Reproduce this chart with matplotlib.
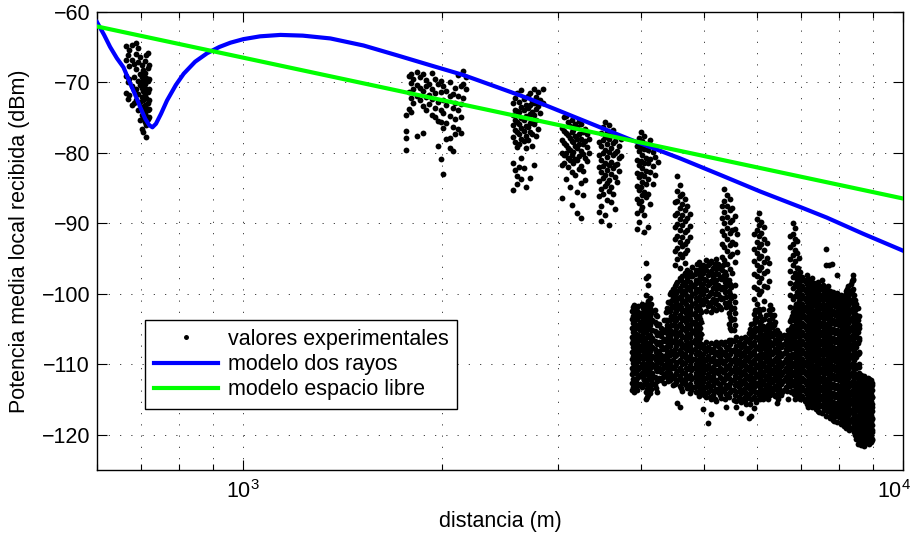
import matplotlib
matplotlib.use("Agg")
import matplotlib.pyplot as plt
import matplotlib.transforms as mtransforms
from matplotlib.ticker import LogLocator, NullFormatter

plt.rcParams['font.family'] = ['Liberation Sans', 'DejaVu Sans']
plt.rcParams['font.size'] = 15.5

# modelo de dos rayos
d_dos_rayos = [600, 615, 628, 643, 658, 674, 687, 698, 710, 720, 728, 737, 750, 766, 790, 812,
               845, 881, 920, 956, 1000, 1060, 1138, 1230, 1355, 1521, 1711, 1920, 2157, 2424,
               2722, 3056, 3431, 3852, 4590, 5300, 6072, 6982, 7660, 8700, 10000]
p_dos_rayos = [-61.5, -63.3, -65.0, -66.6, -67.9, -70.2, -72.0, -73.6, -75.2, -76.1, -76.4, -75.9,
               -74.5, -72.6, -70.4, -68.8, -67.1, -65.9, -65.0, -64.4, -63.9, -63.5, -63.3, -63.4,
               -63.8, -64.8, -66.2, -67.6, -69.0, -70.7, -72.4, -74.3, -76.2, -78.1, -80.8, -83.2,
               -85.5, -87.7, -89.2, -91.5, -93.9]

# modelo de espacio libre
d_libre = [600, 10000]
p_libre = [-62.1, -86.5]

# valores experimentales, por columnas: (distancia, [potencias])
medidas_700 = [
    (664, [-64.9, -66.8, -69.1, -71.5]),
    (668, [-66.2, -70.0, -72.4]),
    (672, [-65.5, -67.7, -69.6, -71.8]),
    (677, [-64.7, -66.9, -70.6, -73.2]),
    (682, [-67.4, -69.3, -71.1, -73.0]),
    (687, [-64.4, -66.0, -68.2, -70.9, -72.6]),
    (692, [-65.1, -67.2, -69.8, -71.7, -74.0]),
    (697, [-66.4, -68.9, -70.4, -72.8, -75.3]),
    (701, [-67.6, -69.2, -70.8, -72.1, -73.5, -74.7, -76.6]),
    (705, [-68.3, -69.9, -71.3, -72.6, -73.9, -75.1, -77.0]),
    (709, [-67.0, -68.7, -70.3, -71.7, -73.2, -74.3, -75.6]),
    (713, [-66.1, -69.4, -70.9, -72.3, -73.6, -74.8, -76.1, -77.8]),
    (717, [-65.9, -68.0, -69.9, -71.4, -72.9, -74.0, -75.2]),
    (720, [-67.5, -69.5, -71.0, -72.5, -73.8, -75.0]),
]
medidas_1900 = [
    (1765, [-74.6, -76.9, -77.9, -79.6]),
    (1780, [-69.1, -71.4, -73.8]),
    (1795, [-68.8, -70.1, -72.3, -74.3]),
    (1810, [-69.6, -71.0, -73.0]),
    (1830, [-68.6, -70.4, -71.9, -77.6]),
    (1850, [-69.3, -70.8, -72.6]),
    (1870, [-68.9, -71.3, -73.4, -77.2]),
    (1890, [-69.7, -70.6, -72.1, -74.0]),
    (1910, [-70.2, -71.8, -73.1]),
    (1930, [-68.7, -70.9, -72.4, -74.6]),
    (1950, [-69.5, -71.6, -73.7, -75.0]),
    (1970, [-70.3, -72.8, -75.5, -79.0]),
    (1990, [-69.9, -71.4, -73.9, -75.6, -80.9]),
    (2010, [-70.6, -72.5, -74.4, -76.5, -83.0]),
    (2030, [-71.2, -73.3, -75.8, -78.1]),
    (2055, [-70.0, -72.0, -74.8, -77.9, -79.3]),
    (2075, [-71.7, -73.6, -76.3, -79.8]),
    (2095, [-70.8, -72.9, -75.2, -77.4]),
    (2115, [-69.0, -71.9, -74.0, -76.6]),
    (2135, [-70.5, -73.1, -75.0, -77.2]),
    (2155, [-68.4, -70.2, -72.3]),
    (2175, [-69.2, -71.0]),
]
medidas_2700 = [
    (2560, [-73.0, -74.6, -76.1, -77.8, -81.4, -85.3]),
    (2580, [-72.2, -73.9, -75.4, -76.8, -78.5, -82.5]),
    (2600, [-71.5, -74.1, -75.7, -77.0, -79.2, -83.3, -84.4]),
    (2620, [-72.8, -74.3, -75.9, -77.4, -78.7, -82.0]),
    (2640, [-71.1, -73.5, -75.1, -76.5, -78.0, -80.8, -83.8]),
    (2660, [-72.4, -74.0, -75.3, -76.9, -78.3, -82.2]),
    (2680, [-73.3, -74.8, -76.2, -77.6, -79.4, -84.8]),
    (2700, [-72.0, -73.7, -75.0, -76.4, -78.2]),
    (2720, [-71.6, -73.2, -74.5, -75.8, -77.1, -83.6]),
    (2740, [-72.7, -74.2, -75.6, -77.3, -79.0]),
    (2760, [-70.9, -72.9, -74.7, -76.0, -81.7]),
    (2780, [-72.1, -73.8, -75.4, -77.7]),
    (2800, [-71.4, -73.4, -76.6]),
    (2820, [-72.5, -74.4]),
    (2845, [-71.0, -73.0]),
]
medidas_3200 = [
    (3045, [-76.5, -78.2, -80.0, -81.8, -86.4]),
    (3065, [-75.0, -76.9, -78.6, -80.4, -81.5]),
    (3085, [-74.8, -77.2, -78.9, -80.1, -83.7]),
    (3105, [-75.6, -77.5, -79.3, -80.7, -82.0]),
    (3125, [-76.2, -77.9, -79.6, -81.1, -84.9]),
    (3145, [-75.3, -77.0, -78.4, -80.3, -82.8, -87.4]),
    (3165, [-76.8, -78.5, -79.9, -81.4]),
    (3185, [-75.9, -77.7, -79.1, -80.9, -83.2]),
    (3205, [-76.4, -78.1, -79.4, -81.0, -85.6, -88.6]),
    (3225, [-75.5, -77.3, -78.8, -80.5, -82.3]),
    (3245, [-76.0, -78.0, -79.7, -81.9, -84.3, -89.3]),
    (3270, [-77.1, -78.7, -80.2, -82.6, -86.0]),
    (3295, [-76.6, -78.3, -80.8, -83.9]),
    (3320, [-77.4, -79.2, -81.2]),
    (3345, [-78.0, -80.0]),
]
medidas_3600 = [
    (3455, [-78.5, -80.3, -82.1, -84.0, -86.2, -88.4]),
    (3480, [-77.2, -79.1, -81.0, -82.8, -85.1, -87.6, -89.7]),
    (3505, [-76.4, -78.2, -80.0, -81.9, -83.6, -85.8]),
    (3530, [-75.7, -77.8, -79.6, -81.5, -83.2, -84.7, -88.9]),
    (3555, [-77.0, -78.8, -80.6, -82.4, -84.3, -86.7]),
    (3580, [-76.1, -78.0, -79.9, -81.7, -83.9, -85.4, -90.3]),
    (3605, [-77.5, -79.4, -81.3, -83.0, -84.8, -87.0]),
    (3630, [-76.8, -78.6, -80.4, -82.2, -85.9]),
    (3655, [-78.3, -80.1, -81.8, -83.5, -88.0]),
    (3680, [-77.6, -79.7, -81.6, -84.1]),
    (3710, [-79.0, -80.8, -82.6]),
    (3740, [-78.1, -80.5]),
]
medidas_4000 = [
    (3950, [-79.0, -81.0, -82.9, -84.7, -86.5, -88.6, -90.8]),
    (3975, [-77.9, -79.8, -81.7, -83.5, -85.3, -87.2, -89.9]),
    (4000, [-77.1, -79.2, -81.2, -83.0, -84.9, -86.8, -88.2]),
    (4025, [-78.4, -80.3, -82.2, -84.1, -86.0, -87.7]),
    (4050, [-77.6, -79.5, -81.4, -83.3, -85.6, -88.9, -91.2]),
    (4080, [-78.8, -80.7, -82.6, -84.5, -86.3]),
    (4110, [-79.6, -81.5, -83.8, -85.9, -90.5]),
    (4140, [-78.2, -80.9, -82.8, -87.3]),
    (4175, [-79.9, -81.9, -84.4]),
    (4210, [-80.6, -83.1]),
    (4250, [-81.3]),
]
# picos estrechos entre 4500 y 7000 m
picos = [
    (4510, [-87.0, -88.9, -90.6, -92.3, -94.0, -95.9]),
    (4550, [-83.3, -85.4, -86.9, -88.5, -90.1, -91.8, -93.5, -95.1]),
    (4590, [-84.6, -86.2, -87.8, -89.4, -91.0, -92.6, -94.4, -96.4]),
    (4630, [-85.8, -87.3, -88.8, -90.3, -91.9, -93.2, -94.8]),
    (4670, [-86.5, -88.1, -89.7, -91.3, -92.9, -94.2, -95.6]),
    (4710, [-87.6, -89.2, -90.9, -92.5, -93.8]),
    (4750, [-88.7, -90.4, -92.0]),
    (5310, [-87.5, -89.3, -91.1, -93.0, -94.8, -96.6]),
    (5360, [-85.2, -86.9, -88.4, -90.0, -91.7, -93.4, -95.2, -97.3, -99.4]),
    (5410, [-86.0, -87.6, -89.1, -90.7, -92.3, -94.0, -95.8, -98.1]),
    (5460, [-86.6, -88.2, -89.8, -91.4, -93.1, -94.6, -96.5, -100.2]),
    (5510, [-87.9, -89.5, -91.0, -92.7, -94.3, -97.0]),
    (5560, [-89.0, -90.8, -92.9, -95.5, -98.8]),
    (5600, [-91.6, -94.1]),
    (5950, [-91.5, -93.6, -95.4, -97.2, -99.1, -100.8]),
    (6000, [-89.4, -91.0, -92.6, -94.2, -95.9, -97.5, -99.3, -101.5]),
    (6050, [-88.6, -90.3, -91.8, -93.4, -95.0, -96.7, -98.4, -100.1, -102.2]),
    (6100, [-89.9, -91.4, -93.0, -94.6, -96.2, -97.8, -99.6]),
    (6150, [-90.6, -92.2, -93.8, -95.5, -97.1, -98.9, -101.0]),
    (6210, [-92.8, -94.9, -96.8, -99.0]),
    (6270, [-95.7, -98.2]),
    (6750, [-91.8, -93.4, -95.1, -96.8, -98.5, -100.2, -101.9]),
    (6800, [-90.0, -91.5, -93.0, -94.5, -96.0, -97.6, -99.2, -100.8, -102.6]),
    (6850, [-90.7, -92.2, -93.8, -95.4, -97.0, -98.6, -100.3]),
    (6900, [-92.5, -94.2, -96.3, -98.0, -99.8]),
    (6960, [-95.0, -97.7, -100.5]),
    (7650, [-93.7, -95.9]),
    (7720, [-95.9]),
    (7800, [-95.8]),
    (7950, [-97.3]),
    (8230, [-99.3]),
    (8400, [-98.1, -97.4]),
]
# banda inferior (3900 - 9000 m)
banda = [
    (3880, [-102.4, -103.6, -104.8, -106.1, -107.0, -108.3, -109.2, -110.5, -111.4, -112.7, -113.6]),
    (3910, [-101.6, -102.8, -104.2, -105.2, -106.5, -107.7, -108.6, -109.9, -110.8, -112.1, -113.1, -114.0]),
    (3940, [-102.1, -103.2, -104.5, -105.7, -106.7, -108.0, -109.1, -110.1, -111.3, -112.5, -113.4]),
    (3965, [-101.8, -103.0, -104.6, -105.8, -107.3, -108.4, -109.6, -110.7, -111.8, -113.0]),
    (3990, [-102.7, -104.0, -105.1, -106.5, -107.8, -109.0, -110.4, -111.5, -112.8]),
    (4020, [-101.4, -103.3, -104.7, -106.1, -107.4, -108.8, -110.0, -111.2, -113.3]),
    (4050, [-102.5, -103.8, -105.0, -106.3, -107.5, -108.6, -109.9, -111.0, -112.3]),
    (4080, [-95.6, -97.8, -100.2, -101.9, -103.1, -104.4, -105.5, -106.8, -107.9, -109.0, -110.3,
            -111.4, -112.6, -113.9, -115.0]),
    (4110, [-97.5, -98.8, -101.0, -102.2, -103.6, -104.8, -106.0, -107.3, -108.4, -109.6, -110.8,
            -112.1, -113.2, -114.4]),
    (4140, [-100.6, -102.0, -103.2, -104.5, -105.8, -107.0, -108.1, -109.4, -110.6, -111.7, -112.9, -114.1]),
    (4170, [-102.4, -103.7, -105.1, -106.3, -107.6, -108.9, -110.0, -111.3, -112.6]),
    (4200, [-102.3, -104.0, -105.3, -106.7, -107.9, -109.1, -110.4, -111.8, -113.0]),
    (4235, [-103.1, -104.5, -105.9, -107.2, -108.5, -109.8, -111.0, -112.4, -113.9]),
    (4265, [-104.3, -105.6, -106.8, -108.1, -109.3, -110.5, -111.9]),
    (4300, [-104.9, -106.0, -107.4, -108.7, -109.8, -111.1, -112.3]),
    (4335, [-103.8, -105.2, -106.4, -107.7, -109.0, -110.2, -111.4, -112.6]),
    (4370, [-102.6, -103.8, -105.0, -106.4, -107.6, -108.7, -110.0, -111.3]),
    (4405, [-101.2, -102.5, -103.8, -105.0, -106.1, -107.4, -108.8, -109.9, -111.0, -112.4]),
    (4440, [-100.0, -101.3, -102.4, -103.8, -105.1, -106.3, -107.4, -108.7, -110.1, -111.2, -112.2]),
    (4475, [-99.4, -100.6, -101.9, -103.3, -104.4, -105.6, -106.9, -108.3, -109.4, -110.6, -111.9, -113.0]),
    (4510, [-98.9, -100.2, -101.6, -102.8, -103.9, -105.3, -106.6, -107.8, -108.9, -110.3, -111.5, -112.8]),
    (4550, [-98.3, -99.6, -100.8, -102.1, -103.5, -104.6, -105.8, -107.1, -108.5, -109.7, -110.9,
            -112.3, -115.5]),
    (4590, [-97.8, -99.2, -100.4, -101.6, -103.0, -104.3, -105.5, -106.7, -108.0, -109.4, -110.6,
            -111.7, -113.1, -116.0]),
    (4630, [-97.5, -98.7, -100.1, -101.2, -102.4, -103.8, -105.0, -106.1, -107.5, -108.8, -110.0,
            -111.2, -112.6, -113.8]),
    (4670, [-97.0, -98.4, -99.6, -101.0, -102.3, -103.4, -104.8, -106.1, -107.3, -108.5, -109.8,
            -111.2, -112.4]),
    (4710, [-96.6, -97.8, -99.2, -100.6, -101.8, -103.0, -104.3, -105.7, -106.8, -108.0, -109.4,
            -110.7, -111.9, -113.4]),
    (4750, [-96.9, -98.3, -99.5, -100.9, -102.3, -103.6, -104.8, -106.2, -107.4, -108.9, -110.1,
            -111.5, -112.8, -114.1]),
    (4790, [-96.2, -97.5, -98.9, -100.1, -101.5, -102.9, -104.0, -105.4, -106.8, -108.0, -109.2,
            -110.6, -111.9, -113.3]),
    (4830, [-97.2, -98.6, -99.9, -101.3, -102.7, -104.0, -105.2, -106.6, -107.9, -109.3, -110.5,
            -111.8, -113.3]),
    (4870, [-95.8, -97.0, -98.2, -99.6, -100.9, -102.3, -103.5, -104.7, -106.1, -107.4, -108.6,
            -110.0, -111.4, -112.6, -114.0]),
    (4905, [-95.5, -96.7, -97.9, -99.3, -100.4, -101.8, -103.1, -104.3, -105.5, -106.9, -108.2,
            -109.4, -110.7, -112.0, -113.2, -114.5]),
    (4940, [-96.3, -97.6, -98.8, -100.1, -101.4, -102.6, -104.0, -105.7, -107.2, -108.5, -109.8,
            -111.1, -112.4, -113.7]),
    (4980, [-95.9, -97.1, -98.6, -100.0, -101.5, -107.3, -108.6, -109.9, -111.2, -112.5, -113.8, -116.4]),
    (5025, [-95.2, -96.6, -98.1, -99.5, -101.0, -102.4, -106.8, -108.1, -109.4, -110.7, -112.0,
            -113.3, -114.6]),
    (5070, [-96.0, -97.4, -98.8, -100.3, -101.8, -107.5, -108.8, -110.1, -111.4, -112.7, -114.0, -118.3]),
    (5115, [-95.4, -96.8, -98.2, -99.7, -101.2, -102.6, -107.0, -108.3, -109.6, -110.9, -112.3,
            -113.6, -115.0, -117.1]),
    (5160, [-96.3, -97.7, -99.2, -100.7, -102.0, -107.8, -109.1, -110.4, -111.7, -113.0, -114.3]),
    (5205, [-95.1, -96.5, -98.0, -99.4, -100.9, -102.3, -106.9, -108.2, -109.5, -110.8, -112.2,
            -113.5, -115.2]),
    (5250, [-95.8, -97.2, -98.7, -100.1, -101.6, -107.4, -108.7, -110.0, -111.3, -112.6, -113.9]),
    (5295, [-96.5, -97.9, -99.4, -100.8, -102.2, -106.8, -108.1, -109.4, -110.7, -112.0, -113.4, -114.8]),
    (5340, [-96.0, -97.6, -99.1, -100.6, -107.2, -108.5, -109.8, -111.1, -112.5, -113.8]),
    (5390, [-97.4, -98.9, -100.5, -101.9, -107.6, -108.9, -110.2, -111.5, -112.9, -114.2, -116.0]),
    (5440, [-98.0, -99.6, -101.2, -102.8, -104.3, -106.6, -107.9, -109.3, -110.6, -111.9, -113.2, -114.6]),
    (5490, [-99.0, -100.6, -102.1, -103.7, -105.2, -106.6, -108.0, -109.4, -110.8, -112.2, -113.6]),
    (5540, [-100.3, -102.0, -103.6, -105.1, -106.7, -108.1, -109.5, -110.9, -112.3, -113.7, -115.1]),
    (5590, [-106.1, -107.4, -108.7, -110.0, -111.3, -112.6, -113.9, -115.2, -116.0]),
    (5640, [-106.8, -108.1, -109.4, -110.7, -112.0, -113.3, -114.6]),
    (5690, [-106.3, -107.6, -108.9, -110.2, -111.5, -112.8, -114.1, -115.4, -116.9]),
    (5740, [-107.0, -108.3, -109.6, -110.9, -112.2, -113.5, -114.8]),
    (5790, [-106.5, -107.8, -109.1, -110.4, -111.7, -113.0, -114.3, -115.6]),
    (5840, [-105.6, -106.9, -108.2, -109.5, -110.8, -112.1, -113.4, -114.8, -117.6]),
    (5890, [-104.3, -105.8, -107.1, -108.4, -109.7, -111.0, -112.3, -113.6, -115.0, -117.4]),
    (5940, [-102.9, -104.2, -105.5, -106.8, -108.1, -109.4, -110.7, -112.0, -113.3, -114.6, -116.2]),
    (5990, [-103.5, -104.9, -106.2, -107.5, -108.8, -110.1, -111.4, -112.7, -114.0, -115.3]),
    (6040, [-102.6, -104.0, -105.3, -106.6, -107.9, -109.2, -110.5, -111.8, -113.1, -114.4]),
    (6090, [-103.9, -105.2, -106.5, -107.8, -109.1, -110.4, -111.7, -113.0, -114.3]),
    (6140, [-102.2, -104.6, -105.9, -107.2, -108.5, -109.8, -111.1, -112.4, -113.7, -115.0]),
    (6190, [-103.0, -105.4, -106.7, -108.0, -109.3, -110.6, -111.9, -113.2, -114.5]),
    (6240, [-104.4, -105.8, -107.1, -108.4, -109.7, -111.0, -112.3, -113.6, -114.9]),
    (6290, [-101.6, -102.9, -104.2, -105.5, -106.8, -108.1, -109.4, -110.7, -112.0, -113.3, -114.4]),
    (6340, [-102.1, -103.4, -104.7, -106.0, -107.3, -108.6, -109.9, -111.2, -112.5, -113.9]),
    (6390, [-104.0, -105.3, -106.6, -107.9, -109.2, -110.5, -111.8, -113.1, -114.5]),
    (6440, [-105.1, -106.4, -107.7, -109.0, -110.3, -111.6, -112.9, -114.2, -115.5]),
    (6490, [-105.6, -106.9, -108.2, -109.5, -110.8, -112.1, -113.4]),
    (6540, [-106.3, -107.6, -108.9, -110.2, -111.5, -112.8, -114.4]),
    (6590, [-105.8, -107.1, -108.4, -109.7, -111.0, -112.3, -113.7]),
    (6640, [-106.6, -107.9, -109.2, -110.5, -111.8, -113.3]),
    (6690, [-105.2, -106.5, -107.8, -109.1, -110.4, -111.7, -112.6, -114.9]),
    (6740, [-103.9, -105.3, -106.6, -107.9, -109.2, -110.5, -111.8, -113.1]),
    (6790, [-103.2, -104.6, -105.9, -107.2, -108.5, -109.8, -111.1, -112.4, -113.8]),
    (6840, [-102.4, -103.8, -105.1, -106.4, -107.7, -109.0, -110.3, -111.6, -112.9, -114.2]),
    (6890, [-101.5, -102.9, -104.2, -105.5, -106.8, -108.1, -109.4, -110.7, -112.0, -113.3, -114.6]),
    (6940, [-96.4, -97.7, -99.0, -100.3, -101.6, -102.9, -104.2, -105.5, -106.8, -108.1, -109.4,
            -110.7, -112.0, -113.3, -114.5]),
    (6990, [-96.9, -98.2, -99.5, -100.8, -102.1, -103.4, -104.7, -106.0, -107.3, -108.6, -109.9,
            -111.2, -112.5, -113.8, -115.0]),
    (7040, [-97.6, -98.9, -100.2, -101.5, -102.8, -104.1, -105.4, -106.7, -108.0, -109.3, -110.6,
            -111.9, -113.2, -114.5]),
    (7090, [-98.2, -99.5, -100.8, -102.1, -103.4, -104.7, -106.0, -107.3, -108.6, -109.9, -111.2,
            -112.5, -113.8, -115.2]),
    (7140, [-97.3, -98.6, -99.9, -101.2, -102.5, -103.8, -105.1, -106.4, -107.7, -109.0, -110.3,
            -111.6, -112.9, -114.2, -115.6]),
    (7190, [-98.0, -99.3, -100.6, -101.9, -103.2, -104.5, -105.8, -107.1, -108.4, -109.7, -111.0,
            -112.3, -113.6, -114.9]),
    (7240, [-98.7, -100.0, -101.3, -102.6, -103.9, -105.2, -106.5, -107.8, -109.1, -110.4, -111.7,
            -113.0, -114.3, -115.7]),
    (7290, [-97.8, -99.1, -100.4, -101.7, -103.0, -104.3, -105.6, -106.9, -108.2, -109.5, -110.8,
            -112.1, -113.4, -114.7, -116.1]),
    (7340, [-98.5, -99.8, -101.1, -102.4, -103.7, -105.0, -106.3, -107.6, -108.9, -110.2, -111.5,
            -112.8, -114.1, -115.4]),
    (7390, [-99.2, -100.5, -101.8, -103.1, -104.4, -105.7, -107.0, -108.3, -109.6, -110.9, -112.2,
            -113.5, -114.8, -116.3]),
    (7440, [-98.4, -99.7, -101.0, -102.3, -103.6, -104.9, -106.2, -107.5, -108.8, -110.1, -111.4,
            -112.7, -114.0, -115.3, -116.6]),
    (7490, [-99.0, -100.3, -101.6, -102.9, -104.2, -105.5, -106.8, -108.1, -109.4, -110.7, -112.0,
            -113.3, -114.6, -115.9]),
    (7540, [-98.1, -99.4, -100.7, -102.0, -103.3, -104.6, -105.9, -107.2, -108.5, -109.8, -111.1,
            -112.4, -113.7, -115.0, -116.9]),
    (7590, [-99.5, -100.8, -102.1, -103.4, -104.7, -106.0, -107.3, -108.6, -109.9, -111.2, -112.5,
            -113.8, -115.1, -116.4]),
    (7640, [-99.3, -100.6, -101.9, -103.2, -104.5, -105.8, -107.1, -108.4, -109.7, -111.0, -112.3,
            -113.6, -114.9, -116.2, -117.3]),
    (7690, [-98.9, -100.2, -101.5, -102.8, -104.1, -105.4, -106.7, -108.0, -109.3, -110.6, -111.9,
            -113.2, -114.5, -115.8]),
    (7740, [-99.6, -100.9, -102.2, -103.5, -104.8, -106.1, -107.4, -108.7, -110.0, -111.3, -112.6,
            -113.9, -115.2, -116.5, -117.6]),
    (7790, [-100.1, -101.4, -102.7, -104.0, -105.3, -106.6, -107.9, -109.2, -110.5, -111.8, -113.1,
            -114.4, -115.7, -117.0]),
    (7840, [-99.8, -101.1, -102.4, -103.7, -105.0, -106.3, -107.6, -108.9, -110.2, -111.5, -112.8,
            -114.1, -115.4, -116.7, -117.9]),
    (7890, [-100.4, -101.7, -103.0, -104.3, -105.6, -106.9, -108.2, -109.5, -110.8, -112.1, -113.4,
            -114.7, -116.0, -117.3]),
    (7940, [-99.9, -101.2, -102.5, -103.8, -105.1, -106.4, -107.7, -109.0, -110.3, -111.6, -112.9,
            -114.2, -115.5, -116.8, -118.2]),
    (7990, [-100.6, -101.9, -103.2, -104.5, -105.8, -107.1, -108.4, -109.7, -111.0, -112.3, -113.6,
            -114.9, -116.2, -117.5]),
    (8040, [-100.2, -101.5, -102.8, -104.1, -105.4, -106.7, -108.0, -109.3, -110.6, -111.9, -113.2,
            -114.5, -115.8, -117.1, -118.4]),
    (8090, [-101.0, -102.3, -103.6, -104.9, -106.2, -107.5, -108.8, -110.1, -111.4, -112.7, -114.0,
            -115.3, -116.6, -117.9]),
    (8140, [-100.7, -102.0, -103.3, -104.6, -105.9, -107.2, -108.5, -109.8, -111.1, -112.4, -113.7,
            -115.0, -116.3, -117.6, -118.7]),
    (8190, [-99.6, -100.9, -102.2, -103.5, -104.8, -106.1, -107.4, -108.7, -110.0, -111.3, -112.6,
            -113.9, -115.2, -116.5, -117.8, -119.0]),
    (8240, [-98.9, -100.3, -101.6, -102.9, -104.2, -105.5, -106.8, -108.1, -109.4, -110.7, -112.0,
            -113.3, -114.6, -115.9, -117.2, -118.5]),
    (8290, [-100.0, -101.3, -102.6, -103.9, -105.2, -106.5, -107.8, -109.1, -110.4, -111.7, -113.0,
            -114.3, -115.6, -116.9, -118.2, -119.3]),
    (8340, [-98.6, -99.9, -101.2, -102.5, -103.8, -105.1, -106.4, -107.7, -109.0, -110.3, -111.6,
            -112.9, -114.2, -115.5, -116.8, -118.1]),
    (8390, [-97.9, -99.3, -100.7, -102.0, -103.3, -104.6, -105.9, -107.2, -108.5, -109.8, -111.1,
            -112.4, -113.7, -115.0, -116.3, -117.6, -118.9]),
    (8440, [-100.2, -101.6, -102.9, -104.2, -105.5, -106.8, -108.1, -109.4, -110.7, -112.0, -113.3,
            -114.6, -115.9, -117.2, -118.5, -119.6]),
    (8490, [-101.5, -103.0, -104.5, -106.0, -107.5, -109.0, -110.5, -111.8, -112.9, -114.0, -115.1,
            -116.2, -117.3, -118.4, -119.5, -120.6]),
    (8540, [-102.0, -103.8, -105.4, -107.0, -108.6, -110.2, -111.5, -112.5, -113.5, -114.5, -115.5,
            -116.5, -117.5, -118.5, -119.5, -120.5, -121.3]),
    (8590, [-104.5, -106.3, -108.2, -110.4, -111.7, -112.7, -113.7, -114.7, -115.7, -116.7, -117.7,
            -118.7, -119.7, -120.7]),
    (8640, [-111.5, -112.5, -113.5, -114.5, -115.5, -116.5, -117.5, -118.5, -119.5, -120.5, -121.4]),
    (8690, [-112.0, -113.0, -114.0, -115.0, -116.0, -117.0, -118.0, -119.0, -120.0, -121.0]),
    (8740, [-111.7, -112.7, -113.7, -114.7, -115.7, -116.7, -117.7, -118.7, -119.7, -120.7, -121.6]),
    (8790, [-112.3, -113.3, -114.3, -115.3, -116.3, -117.3, -118.3, -119.3, -120.3, -121.2]),
    (8840, [-111.9, -112.9, -113.9, -114.9, -115.9, -116.9, -117.9, -118.9, -119.9, -120.9]),
    (8890, [-112.4, -113.4, -114.4, -115.4, -116.4, -117.4, -118.4, -119.4, -120.4, -121.3]),
    (8940, [-112.2, -113.2, -114.2, -115.2, -116.2, -117.2, -118.2, -119.2, -120.2, -121.1]),
    (8975, [-113.0, -114.6, -116.1, -117.7, -119.3, -120.8]),
]
# columnas intermedias de la banda (zona mas densa)
banda_b = [
    (3895, [-101.9, -103.1, -104.2, -105.4, -106.6, -107.6, -108.8, -109.8, -111.0, -112.1, -113.3]),
    (3955, [-102.5, -103.6, -104.9, -106.2, -107.2, -108.5, -109.5, -110.8, -112.0, -113.6]),
    (4035, [-102.0, -103.1, -104.3, -105.6, -106.9, -108.1, -109.3, -110.6, -111.8, -112.9]),
    (4095, [-101.4, -102.7, -103.9, -105.0, -106.2, -107.5, -108.7, -109.9, -111.0, -112.3, -113.5, -114.6]),
    (4155, [-101.5, -102.7, -103.9, -105.2, -106.4, -107.6, -108.8, -110.0, -111.2, -112.3, -113.5]),
    (4215, [-103.0, -104.2, -105.5, -106.9, -108.2, -109.4, -110.7, -112.0, -113.4]),
    (4320, [-105.5, -106.7, -107.9, -109.2, -110.5, -111.8]),
    (4390, [-102.0, -104.4, -105.6, -106.9, -108.1, -109.4, -110.6, -111.8]),
    (4455, [-99.7, -101.0, -102.0, -103.2, -104.5, -105.7, -106.9, -108.1, -109.5, -110.6, -111.7]),
    (4530, [-98.6, -99.9, -101.2, -102.4, -103.7, -104.9, -106.2, -107.4, -108.7, -110.0, -111.2, -112.5]),
    (4610, [-98.1, -99.5, -100.6, -101.9, -103.3, -104.6, -105.8, -107.0, -108.3, -109.6, -110.8,
            -112.1, -113.4]),
    (4690, [-97.3, -98.9, -100.2, -101.5, -102.8, -104.0, -105.3, -106.6, -107.8, -109.1, -110.5,
            -111.8, -113.0]),
    (4770, [-97.5, -98.9, -100.3, -101.7, -102.9, -104.3, -105.6, -106.9, -108.2, -109.6, -110.8,
            -112.1, -113.6]),
    (4850, [-96.6, -98.0, -99.3, -100.6, -102.0, -103.3, -104.6, -105.9, -107.2, -108.5, -109.9,
            -111.2, -112.5, -113.9]),
    (4925, [-96.0, -97.3, -98.5, -99.8, -101.0, -102.3, -103.6, -104.9, -106.3, -107.6, -108.9,
            -110.1, -111.5, -112.8, -114.1]),
    (5000, [-96.4, -97.9, -99.3, -100.8, -107.9, -109.2, -110.5, -111.9, -113.2, -114.4]),
    (5090, [-95.7, -97.1, -98.5, -100.0, -101.5, -107.8, -109.4, -110.7, -112.0, -113.3, -114.7]),
    (5180, [-95.8, -97.2, -98.6, -100.1, -101.3, -107.3, -108.6, -109.9, -111.1, -112.5, -113.8, -115.0]),
    (5270, [-96.2, -97.6, -99.0, -100.4, -101.9, -107.9, -109.1, -110.5, -111.8, -113.1, -114.4]),
    (5365, [-96.9, -98.4, -99.8, -101.3, -106.9, -108.2, -109.5, -110.8, -112.1, -113.5, -114.9]),
    (5465, [-98.6, -100.1, -101.7, -103.3, -104.9, -107.2, -108.6, -110.0, -111.3, -112.6, -113.9]),
    (5565, [-101.2, -102.8, -104.4, -106.5, -107.8, -109.1, -110.4, -111.7, -113.0, -114.4]),
    (5665, [-107.3, -108.6, -109.9, -111.2, -112.5, -113.8, -115.1]),
    (5765, [-106.2, -107.5, -108.8, -110.1, -111.4, -112.7, -114.0, -115.2]),
    (5865, [-105.0, -106.3, -107.6, -108.9, -110.2, -111.5, -112.8, -114.1, -115.6]),
    (5965, [-102.3, -103.6, -104.8, -106.1, -107.4, -108.7, -110.0, -111.3, -112.6, -113.9, -115.0]),
    (6065, [-103.2, -104.6, -105.9, -107.2, -108.5, -109.8, -111.1, -112.4, -113.7, -114.9]),
    (6165, [-103.6, -104.9, -106.2, -107.6, -108.9, -110.2, -111.5, -112.8, -114.0]),
    (6265, [-102.3, -103.7, -104.9, -106.2, -107.5, -108.8, -110.1, -111.4, -112.7, -113.9]),
    (6365, [-103.0, -104.4, -105.7, -107.0, -108.3, -109.6, -110.9, -112.2, -113.5]),
    (6465, [-105.9, -107.2, -108.5, -109.8, -111.1, -112.4, -113.7, -114.9]),
    (6565, [-106.0, -107.3, -108.6, -109.9, -111.2, -112.5, -113.9]),
    (6665, [-105.9, -107.2, -108.5, -109.8, -111.1, -112.4, -113.8]),
    (6765, [-103.6, -104.9, -106.2, -107.5, -108.8, -110.1, -111.4, -112.7, -114.0]),
    (6865, [-101.9, -103.3, -104.6, -105.9, -107.2, -108.5, -109.8, -111.1, -112.4, -113.7, -115.0]),
    (6965, [-97.0, -98.4, -99.7, -101.0, -102.3, -103.6, -104.9, -106.2, -107.5, -108.8, -110.1,
            -111.4, -112.7, -114.0]),
    (7065, [-98.0, -99.3, -100.6, -101.9, -103.2, -104.5, -105.8, -107.1, -108.4, -109.7, -111.0,
            -112.3, -113.6, -114.9]),
    (7165, [-97.9, -99.2, -100.5, -101.8, -103.1, -104.4, -105.7, -107.0, -108.3, -109.6, -110.9,
            -112.2, -113.5, -114.8, -116.0]),
    (7265, [-98.4, -99.7, -101.0, -102.3, -103.6, -104.9, -106.2, -107.5, -108.8, -110.1, -111.4,
            -112.7, -114.0, -115.3]),
    (7365, [-99.0, -100.3, -101.6, -102.9, -104.2, -105.5, -106.8, -108.1, -109.4, -110.7, -112.0,
            -113.3, -114.6, -115.9]),
    (7465, [-98.9, -100.2, -101.5, -102.8, -104.1, -105.4, -106.7, -108.0, -109.3, -110.6, -111.9,
            -113.2, -114.5, -115.8, -116.8]),
    (7565, [-98.8, -100.1, -101.4, -102.7, -104.0, -105.3, -106.6, -107.9, -109.2, -110.5, -111.8,
            -113.1, -114.4, -115.7]),
    (7665, [-99.6, -100.9, -102.2, -103.5, -104.8, -106.1, -107.4, -108.7, -110.0, -111.3, -112.6,
            -113.9, -115.2, -116.6]),
    (7765, [-100.3, -101.6, -102.9, -104.2, -105.5, -106.8, -108.1, -109.4, -110.7, -112.0, -113.3,
            -114.6, -115.9, -117.2]),
    (7865, [-100.1, -101.4, -102.7, -104.0, -105.3, -106.6, -107.9, -109.2, -110.5, -111.8, -113.1,
            -114.4, -115.7, -117.0, -118.0]),
    (7965, [-100.3, -101.6, -102.9, -104.2, -105.5, -106.8, -108.1, -109.4, -110.7, -112.0, -113.3,
            -114.6, -115.9, -117.2]),
    (8065, [-100.6, -101.9, -103.2, -104.5, -105.8, -107.1, -108.4, -109.7, -111.0, -112.3, -113.6,
            -114.9, -116.2, -117.5, -118.5]),
    (8165, [-100.2, -101.5, -102.8, -104.1, -105.4, -106.7, -108.0, -109.3, -110.6, -111.9, -113.2,
            -114.5, -115.8, -117.1, -118.4]),
    (8265, [-99.5, -100.8, -102.1, -103.4, -104.7, -106.0, -107.3, -108.6, -109.9, -111.2, -112.5,
            -113.8, -115.1, -116.4, -117.7, -118.9]),
    (8365, [-98.2, -99.6, -100.9, -102.2, -103.5, -104.8, -106.1, -107.4, -108.7, -110.0, -111.3,
            -112.6, -113.9, -115.2, -116.5, -117.8, -119.1]),
    (8465, [-100.9, -102.3, -103.6, -104.9, -106.2, -107.5, -108.8, -110.1, -111.4, -112.7, -114.0,
            -115.3, -116.6, -117.9, -119.0, -120.1]),
    (8565, [-103.2, -104.8, -106.6, -108.4, -110.0, -111.2, -112.2, -113.2, -114.2, -115.2, -116.2,
            -117.2, -118.2, -119.2, -120.2, -121.0]),
    (8665, [-111.8, -112.8, -113.8, -114.8, -115.8, -116.8, -117.8, -118.8, -119.8, -120.8]),
    (8765, [-112.0, -113.0, -114.0, -115.0, -116.0, -117.0, -118.0, -119.0, -120.0, -121.0]),
    (8865, [-112.1, -113.1, -114.1, -115.1, -116.1, -117.1, -118.1, -119.1, -120.1, -121.1]),
    (8960, [-112.6, -113.6, -114.6, -115.6, -116.6, -117.6, -118.6, -119.6, -120.6]),
]


def aplanar(grupos):
    xs, ys = [], []
    for g in grupos:
        for d, ps in g:
            xs += [d] * len(ps)
            ys += ps
    return xs, ys


d_exp, p_exp = aplanar([medidas_700, medidas_1900, medidas_2700, medidas_3200,
                        medidas_3600, medidas_4000, picos, banda, banda_b])

fig = plt.figure(figsize=(9.18, 5.37), dpi=100)
ax = fig.add_axes([0.1057, 0.1248, 0.8780, 0.8535])

ax.plot(d_exp, p_exp, 'o', color='k', ms=4.2, mew=0, label='valores experimentales', zorder=2)
ax.plot(d_dos_rayos, p_dos_rayos, color=(0, 0, 1), lw=3, label='modelo dos rayos', zorder=3)
ax.plot(d_libre, p_libre, color=(0, 1, 0), lw=3, label='modelo espacio libre', zorder=3)

ax.set_xscale('log')
ax.set_xlim(600, 10000)
ax.set_ylim(-125, -60)
ax.set_yticks(range(-120, -59, 10))
ax.set_xticks([1000, 10000])
ax.xaxis.set_minor_locator(LogLocator(base=10, subs=range(2, 10)))
ax.xaxis.set_minor_formatter(NullFormatter())

estilo_rejilla = dict(color='0.15', lw=0.6, ls=(0, (1.5, 12)))
ax.grid(True, which='major', **estilo_rejilla)
ax.grid(True, which='minor', axis='x', **estilo_rejilla)
ax.set_axisbelow(True)

ax.tick_params(which='both', direction='in', top=True, right=True, width=0.8)
ax.tick_params(which='major', length=7, pad=5)
ax.tick_params(which='minor', length=4)
ax.tick_params(axis='x', which='major', pad=7)
for s in ax.spines.values():
    s.set_linewidth(1.0)

ax.set_xlabel('distancia (m)', labelpad=6)
ax.set_ylabel('Potencia media local recibida (dBm)', labelpad=8)

leg = ax.legend(loc='lower left', bbox_to_anchor=(0.0596, 0.133), borderaxespad=0,
                fancybox=False, edgecolor='k', framealpha=1, numpoints=1, markerscale=0.85,
                handlelength=3.0, handletextpad=0.45, borderpad=0.4, labelspacing=0.2)
leg.get_frame().set_linewidth(1.0)

# la etiqueta 10^4 queda algo desplazada a la izquierda, como en el original
fig.canvas.draw()
tick4 = ax.xaxis.get_major_ticks()[-1]
tick4.label1.set_transform(tick4.label1.get_transform() +
                           mtransforms.ScaledTranslation(-0.09, 0, fig.dpi_scale_trans))

fig.savefig('out.png', dpi=100)
